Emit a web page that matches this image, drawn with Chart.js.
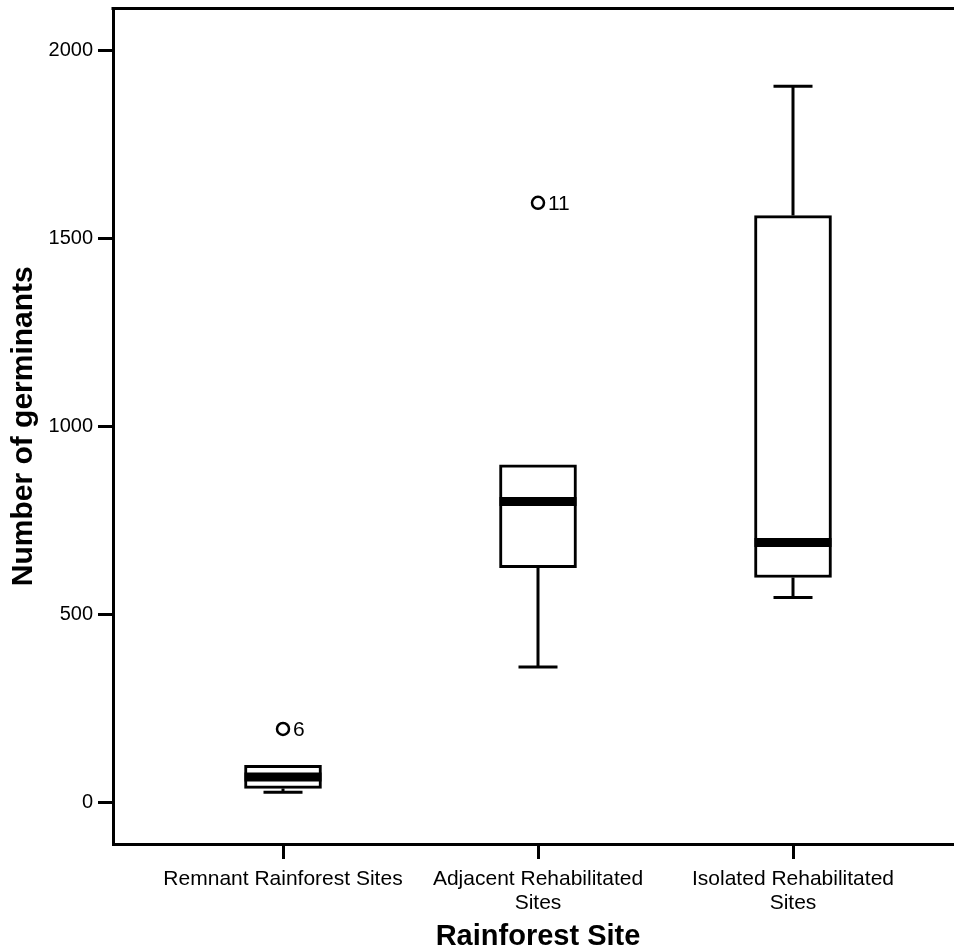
<!DOCTYPE html>
<html>
<head>
<meta charset="utf-8">
<script src="https://cdn.jsdelivr.net/npm/chart.js@4.4.1/dist/chart.umd.min.js"></script>
<style>
  html, body { margin: 0; padding: 0; overflow: hidden; background: #fff; }
  #wrap { width: 972px; height: 951px; }
</style>
</head>
<body>
<div id="wrap"><canvas id="boxChart"></canvas></div>
<script>
// Germinant counts per site type (box plot summary)
const sites = [["Remnant Rainforest Sites"], ["Adjacent Rehabilitated", "Sites"], ["Isolated Rehabilitated", "Sites"]];
const whiskerLow = [27, 360, 545];
const boxLow = [37, 624, 598];
const medians = [67, 800, 691];
const boxHigh = [98, 898, 1561];
const whiskerHigh = [98, 898, 1905];
const outlierSite = [0, 1];
const outlierValue = [195, 1595];
const outlierCase = ["6", "11"];
const yTicks = [0, 500, 1000, 1500, 2000];

const FONT = "'Liberation Sans', Arial, sans-serif";
const BOX_W = 77;
const CAP_W = 39;

// whiskers, medians, case labels and the top frame line
const boxExtras = {
    id: "boxExtras",
    afterDatasetsDraw(chart) {
        const ctx = chart.ctx;
        const xs = chart.scales.x;
        const ys = chart.scales.y;
        const area = chart.chartArea;
        ctx.save();
        ctx.strokeStyle = "#000";
        ctx.lineCap = "butt";

        sites.forEach((s, i) => {
            const cx = xs.getPixelForValue(i);
            ctx.lineWidth = 3;
            ctx.beginPath();
            ctx.moveTo(cx, ys.getPixelForValue(boxLow[i]));
            ctx.lineTo(cx, ys.getPixelForValue(whiskerLow[i]));
            ctx.moveTo(cx - CAP_W / 2, ys.getPixelForValue(whiskerLow[i]));
            ctx.lineTo(cx + CAP_W / 2, ys.getPixelForValue(whiskerLow[i]));
            if (whiskerHigh[i] > boxHigh[i]) {
                ctx.moveTo(cx, ys.getPixelForValue(boxHigh[i]));
                ctx.lineTo(cx, ys.getPixelForValue(whiskerHigh[i]));
                ctx.moveTo(cx - CAP_W / 2, ys.getPixelForValue(whiskerHigh[i]));
                ctx.lineTo(cx + CAP_W / 2, ys.getPixelForValue(whiskerHigh[i]));
            }
            ctx.stroke();

            ctx.lineWidth = 9;
            ctx.beginPath();
            ctx.moveTo(cx - BOX_W / 2, ys.getPixelForValue(medians[i]));
            ctx.lineTo(cx + BOX_W / 2, ys.getPixelForValue(medians[i]));
            ctx.stroke();
        });

        ctx.fillStyle = "#000";
        ctx.font = "21px " + FONT;
        ctx.textAlign = "left";
        ctx.textBaseline = "middle";
        outlierCase.forEach((label, i) => {
            ctx.fillText(label, xs.getPixelForValue(outlierSite[i]) + 10, ys.getPixelForValue(outlierValue[i]) + 1);
        });

        ctx.lineWidth = 3;
        ctx.beginPath();
        ctx.moveTo(area.left - 1.5, area.top);
        ctx.lineTo(area.right, area.top);
        ctx.stroke();
        ctx.restore();
    }
};

// keep the axis labels from pushing the plot area inwards
function noEdgePadding(scale) {
    scale.paddingTop = 0;
    scale.paddingBottom = 0;
    scale.paddingLeft = 0;
    scale.paddingRight = 0;
}

new Chart(document.getElementById("boxChart"), {
    type: "bar",
    data: {
        datasets: [
            {
                type: "scatter",
                data: outlierSite.map((s, i) => ({ x: s, y: outlierValue[i] })),
                pointRadius: 6,
                pointBorderWidth: 2.5,
                pointBackgroundColor: "#fff",
                pointBorderColor: "#000",
                order: 0
            },
            {
                type: "bar",
                data: sites.map((s, i) => ({ x: i, y: [boxLow[i], boxHigh[i]] })),
                backgroundColor: "#fff",
                borderColor: "#000",
                borderWidth: 3,
                borderSkipped: false,
                barThickness: BOX_W,
                order: 1
            }
        ]
    },
    options: {
        responsive: true,
        maintainAspectRatio: false,
        animation: false,
        layout: { padding: { top: 7, right: 9, bottom: 0, left: 0 } },
        plugins: { legend: { display: false }, tooltip: { enabled: false } },
        scales: {
            x: {
                type: "linear",
                min: -2 / 3,
                max: 8 / 3,
                offset: false,
                afterBuildTicks: scale => { scale.ticks = sites.map((s, i) => ({ value: i })); },
                afterFit: scale => { scale.height = 107; noEdgePadding(scale); },
                grid: { display: true, offset: false, drawOnChartArea: false, drawTicks: true, tickLength: 15, color: "#000", lineWidth: 3 },
                border: { display: true, color: "#000", width: 3 },
                ticks: {
                    autoSkip: false,
                    maxRotation: 0,
                    padding: 8,
                    color: "#000",
                    font: { family: FONT, size: 21, lineHeight: 1.15 },
                    callback: v => sites[v]
                },
                title: {
                    display: true,
                    text: "Rainforest Site",
                    color: "#000",
                    padding: { top: 0, bottom: 0 },
                    font: { family: FONT, size: 29, weight: "bold", lineHeight: 1 }
                }
            },
            y: {
                min: -111,
                max: 2112,
                afterBuildTicks: scale => { scale.ticks = yTicks.map(v => ({ value: v })); },
                afterFit: scale => { scale.width = 113; noEdgePadding(scale); },
                grid: { display: true, drawOnChartArea: false, drawTicks: true, tickLength: 15, color: "#000", lineWidth: 3 },
                border: { display: true, color: "#000", width: 3 },
                ticks: {
                    padding: 5,
                    color: "#000",
                    font: { family: FONT, size: 20 },
                    callback: v => String(v)
                },
                title: {
                    display: true,
                    text: "Number of germinants",
                    color: "#000",
                    padding: { top: 6, bottom: 0 },
                    font: { family: FONT, size: 30, weight: "bold", lineHeight: 1.2 }
                }
            }
        }
    },
    plugins: [boxExtras]
});
</script>
</body>
</html>
